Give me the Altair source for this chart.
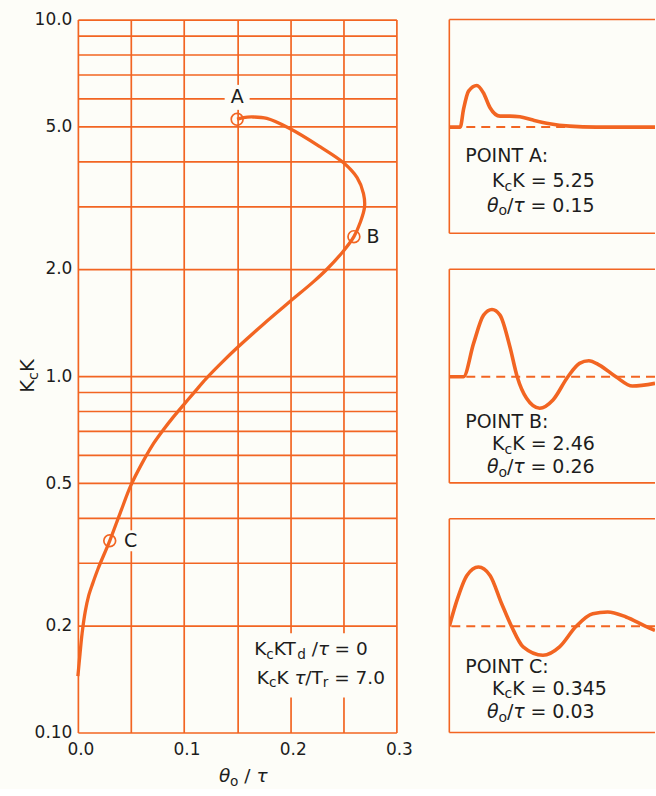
import altair as alt
import pandas as pd

ORANGE = "#f26522"
INK = "#1d1d1d"
PAPER = "#fdfdf8"
FONT = "DejaVu Sans"

# Stability locus: K_c K against theta_0 / tau (traced from bottom to point A)
THETA = [0.000, 0.002, 0.004, 0.007, 0.010, 0.014, 0.019, 0.030, 0.040, 0.050,
         0.060, 0.070, 0.080, 0.090, 0.100, 0.110, 0.121, 0.135, 0.150, 0.175,
         0.200, 0.222, 0.235, 0.250, 0.260, 0.266, 0.270, 0.269, 0.263, 0.250,
         0.228, 0.200, 0.178, 0.165, 0.156, 0.150]
KCK = [0.144, 0.166, 0.190, 0.219, 0.241, 0.262, 0.288, 0.345, 0.414, 0.494,
       0.566, 0.638, 0.703, 0.768, 0.833, 0.903, 0.985, 1.087, 1.200, 1.400,
       1.620, 1.840, 2.000, 2.240, 2.460, 2.700, 2.980, 3.250, 3.600, 3.970,
       4.400, 4.940, 5.280, 5.330, 5.310, 5.250]

# Marked operating points
POINT_NAMES = ["A", "B", "C"]
POINT_THETA = [0.15, 0.26, 0.03]
POINT_KCK = [5.25, 2.46, 0.345]
POINT_THETA_TEXT = ["0.15", "0.26", "0.03"]
POINT_KCK_TEXT = ["5.25", "2.46", "0.345"]

# Axis grid and tick labels
X_GRID = [0.0, 0.05, 0.1, 0.15, 0.2, 0.25, 0.3]
X_LABEL_VALUES = [0.0, 0.1, 0.2, 0.3]
X_LABEL_TEXT = ["0.0", "0.1", "0.2", "0.3"]
Y_GRID = [0.1, 0.2, 0.3, 0.4, 0.5, 0.6, 0.7, 0.8, 0.9, 1, 2, 3, 4, 5, 6, 7, 8, 9, 10]
Y_LABEL_VALUES = [10, 5, 2, 1, 0.5, 0.2, 0.1]
Y_LABEL_TEXT = ["10.0", "5.0", "2.0", "1.0", "0.5", "0.2", "0.10"]

# Closed-loop responses at the three points (time, deviation)
RESP_T_A = [0, 1.06, 1.38, 1.87, 2.68, 3.31, 3.96, 4.93, 5.89, 6.86, 8.15, 9.76, 11.69, 14.27, 20.0]
RESP_Y_A = [0, 0, 0.177, 0.36, 0.417, 0.344, 0.194, 0.11, 0.11, 0.104, 0.07, 0.034, 0.01, 0, 0]
RESP_T_B = [0, 1.38, 2.36, 3.33, 4.15, 4.93, 5.89, 6.60, 7.51, 8.79, 10.08, 11.53, 12.66,
            13.56, 14.59, 16.2, 17.8, 20.0]
RESP_Y_B = [0, 0, 0.334, 0.617, 0.674, 0.617, 0.30, 0, -0.216, -0.316, -0.233, 0, 0.134,
            0.16, 0.117, 0, -0.093, -0.066]
RESP_T_C = [0, 0.74, 1.71, 2.83, 3.96, 5.09, 6.05, 7.18, 9.11, 10.72, 12.33, 13.94, 15.4,
            17.18, 19.1, 20.0]
RESP_Y_C = [0, 0.26, 0.51, 0.594, 0.51, 0.227, 0, -0.206, -0.29, -0.206, 0, 0.127, 0.144,
            0.094, 0, -0.04]

# Approximate DejaVu Sans advance widths (em) for laying out subscript runs
ADV = {"K": 0.656, "c": 0.550, "T": 0.611, "d": 0.635, "r": 0.411, "o": 0.612,
       " ": 0.318, "=": 0.838, "/": 0.337, ".": 0.318, ":": 0.337, "P": 0.603,
       "O": 0.787, "I": 0.295, "N": 0.748, "A": 0.684, "B": 0.686, "C": 0.698,
       "θ": 0.602, "τ": 0.58}
for _d in "0123456789":
    ADV[_d] = 0.636
SUB_SCALE = 0.74
SUB_DROP = 0.29


def text_width(s, size):
    return sum(ADV.get(ch, 0.6) for ch in s) * size


def rich_text(x, y, parts, size, xenc, yenc, dx0=0.0, dy0=0.0, angle=0, color=INK):
    """Left-aligned run of text pieces; 'sub' pieces are smaller and lowered.
    Leading/trailing blanks are turned into horizontal offsets."""
    layers = []
    off = dx0
    for s, kind in parts:
        fs = size * SUB_SCALE if kind == "sub" else size
        drop = size * SUB_DROP if kind == "sub" else 0.0
        core = s.strip(" ")
        lead = len(s) - len(s.lstrip(" "))
        trail = len(s) - len(s.rstrip(" "))
        off += lead * ADV[" "] * fs
        props = dict(align="left", baseline="middle", dx=off, dy=dy0 + drop,
                     fontSize=fs, font=FONT, color=color,
                     fontStyle="italic" if kind == "it" else "normal")
        if angle:
            props["angle"] = angle
        df = pd.DataFrame({"x": [x], "y": [y], "label": [core]})
        layers.append(alt.Chart(df).mark_text(**props).encode(x=xenc(), y=yenc(), text="label:N"))
        off += text_width(core, fs) + trail * ADV[" "] * fs
    return layers


def label_expr(values, texts):
    expr = ""
    for v, t in zip(values, texts):
        expr += f"datum.value == {v} ? '{t}' : "
    return expr + "''"


# ---------------- main chart ----------------
AXIS_STYLE = dict(title=None, grid=True, gridColor=ORANGE, gridWidth=1.7, gridOpacity=1,
                  ticks=False, domain=False, labelFont=FONT, labelFontSize=17,
                  labelColor=INK, labelOverlap=False, labelFlush=False)


def mx():
    return alt.X("x:Q", scale=alt.Scale(domain=[0, 0.3], nice=False, zero=False),
                 axis=alt.Axis(values=X_GRID, labelExpr=label_expr(X_LABEL_VALUES, X_LABEL_TEXT),
                               labelPadding=9, labelAngle=0, labelOffset=2.5, **AXIS_STYLE))


def my():
    return alt.Y("y:Q", scale=alt.Scale(type="log", domain=[0.1, 10], nice=False),
                 axis=alt.Axis(values=Y_GRID, labelExpr=label_expr(Y_LABEL_VALUES, Y_LABEL_TEXT),
                               labelPadding=6, **AXIS_STYLE))


locus = pd.DataFrame({"x": THETA, "y": KCK, "i": list(range(len(THETA)))})
points = pd.DataFrame({"x": POINT_THETA, "y": POINT_KCK, "name": POINT_NAMES})

# pixel offsets of the letter tags from their points
TAG_OFFSET = {"A": (0, -22), "B": (19, 0), "C": (21, 0)}

main_layers = []

# paper-coloured patches that interrupt the grid behind annotations
for name, (ox, oy) in TAG_OFFSET.items():
    if name == "B":
        continue
    side = 25 if name == "A" else 21
    main_layers.append(
        alt.Chart(points[points.name == name]).mark_point(
            shape="square", size=side * side, filled=True, color=PAPER, opacity=1,
            strokeWidth=0, xOffset=ox, yOffset=oy
        ).encode(x=mx(), y=my())
    )

LEGEND_AT = (0.166, 0.171)
legend_df = pd.DataFrame({"x": [LEGEND_AT[0]], "y": [LEGEND_AT[1]]})
main_layers.append(
    alt.Chart(legend_df).mark_point(
        shape="M-1,-0.44L1,-0.44L1,0.44L-1,0.44Z", size=146 * 146, filled=True,
        color=PAPER, opacity=1, strokeWidth=0, xOffset=69, yOffset=16
    ).encode(x=mx(), y=my())
)

main_layers.append(
    alt.Chart(locus).mark_line(color=ORANGE, strokeWidth=3.3, interpolate="catmull-rom")
    .encode(x=mx(), y=my(), order="i:Q")
)
main_layers.append(
    alt.Chart(points).mark_point(shape="circle", size=140, filled=False, color=ORANGE,
                                 strokeWidth=1.7, opacity=1)
    .encode(x=mx(), y=my())
)
for name, (ox, oy) in TAG_OFFSET.items():
    main_layers.append(
        alt.Chart(points[points.name == name]).mark_text(
            font=FONT, fontSize=19, color=INK, align="center", baseline="middle", dx=ox, dy=oy
        ).encode(x=mx(), y=my(), text="name:N")
    )

LEGEND_LINE1 = [("K", "n"), ("c", "sub"), ("KT", "n"), ("d", "sub"), (" /", "n"), ("τ", "it"), (" = 0", "n")]
LEGEND_LINE2 = [("K", "n"), ("c", "sub"), ("K ", "n"), ("τ", "it"), ("/T", "n"), ("r", "sub"), (" = 7.0", "n")]
main_layers += rich_text(LEGEND_AT[0], LEGEND_AT[1], LEGEND_LINE1, 18.5, mx, my)
main_layers += rich_text(LEGEND_AT[0], LEGEND_AT[1], LEGEND_LINE2, 18.5, mx, my, dx0=2.7, dy0=28.3)

# axis titles
main_layers += rich_text(-0.0467, 0.898, [("K", "n"), ("c", "sub"), ("K", "n")], 19.5, mx, my, angle=270)
main_layers += rich_text(0.1329, 0.0754, [("θ", "it"), ("o", "sub"), (" / ", "n"), ("τ", "it")],
                         18.5, mx, my)

main = alt.layer(*main_layers).properties(width=319, height=714)

# ---------------- response panels ----------------
Y_DOMAIN = [-1.063, 1.077]


def px():
    return alt.X("x:Q", scale=alt.Scale(domain=[0, 20], nice=False, zero=False), axis=None)


def py():
    return alt.Y("y:Q", scale=alt.Scale(domain=Y_DOMAIN, nice=False, zero=False), axis=None)


PANEL_TEXT_Y = {"A": (-0.29, -0.54, -0.79), "B": (-0.455, -0.675, -0.905), "C": (-0.41, -0.625, -0.86)}


def panel(idx, T, Y):
    name = POINT_NAMES[idx]
    layers = [
        alt.Chart(pd.DataFrame({"y": Y_DOMAIN})).mark_rule(color=ORANGE, strokeWidth=1.6)
        .encode(y=py()),
        alt.Chart(pd.DataFrame({"x": [0]})).mark_rule(color=ORANGE, strokeWidth=1.6)
        .encode(x=px()),
        alt.Chart(pd.DataFrame({"y": [0]})).mark_rule(color=ORANGE, strokeWidth=2,
                                                      strokeDash=[9, 6], clip=True).encode(y=py()),
        alt.Chart(pd.DataFrame({"x": T, "y": Y})).mark_line(
            color=ORANGE, strokeWidth=3.6, interpolate="monotone", clip=True
        ).encode(x=px(), y=py()),
    ]
    y1, y2, y3 = PANEL_TEXT_Y[name]
    layers += rich_text(1.55, y1, [(f"POINT {name}:", "n")], 19, px, py)
    layers += rich_text(4.15, y2, [("K", "n"), ("c", "sub"), (f"K = {POINT_KCK_TEXT[idx]}", "n")],
                        19, px, py)
    layers += rich_text(3.66, y3, [("θ", "it"), ("o", "sub"), ("/", "n"), ("τ", "it"),
                                   (f" = {POINT_THETA_TEXT[idx]}", "n")], 19, px, py)
    return alt.layer(*layers).properties(width=206, height=214)


right = alt.vconcat(
    panel(0, RESP_T_A, RESP_Y_A),
    panel(1, RESP_T_B, RESP_Y_B),
    panel(2, RESP_T_C, RESP_Y_C),
    spacing=36, bounds="flush",
)

chart = (
    alt.hconcat(main, right, spacing=53, bounds="flush")
    .properties(padding={"left": 18, "top": 10, "right": 0, "bottom": 0}, background=PAPER)
    .configure_view(stroke=None)
)

chart.save("out.html", embed_options={"renderer": "svg", "actions": False})
